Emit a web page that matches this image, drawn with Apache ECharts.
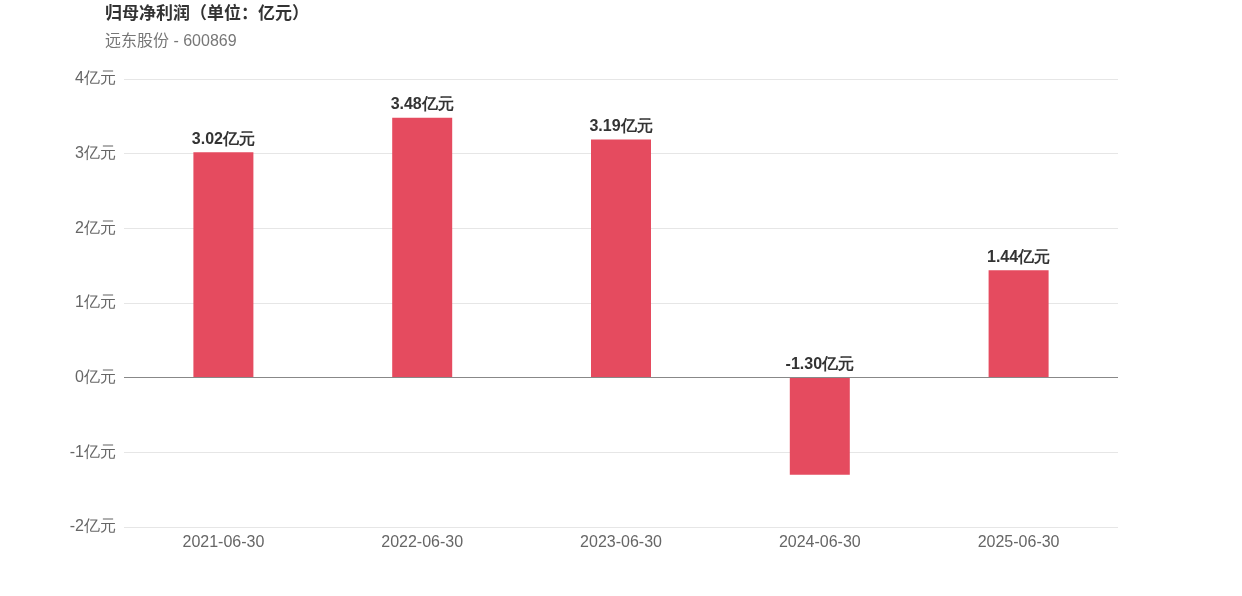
<!DOCTYPE html>
<html><head><meta charset="utf-8">
<script src="https://cdn.jsdelivr.net/npm/echarts@6/dist/echarts.min.js"></script>
<style>html,body{margin:0;padding:0;background:#fff}#c{width:1242px;height:596px}</style>
</head><body><div id="c"></div>
<script>
const categories = ['2021-06-30','2022-06-30','2023-06-30','2024-06-30','2025-06-30'];
const values = [3.02, 3.48, 3.19, -1.30, 1.44];
const titleText = '归母净利润（单位：亿元）';
const subtitleText = '远东股份 - 600869';

const chart = echarts.init(document.getElementById('c'));
chart.setOption({
  animation: false,
  title: {
    text: titleText, subtext: subtitleText, left: 100, top: 1, itemGap: 11,
    textStyle: {fontSize: 17, fontWeight: 'bold', color: '#333', fontFamily: 'Liberation Sans, Noto Sans CJK SC'},
    subtextStyle: {fontSize: 16, color: '#777', fontFamily: 'Liberation Sans, Noto Sans CJK SC'}
  },
  grid: {left: 124, right: 124, top: 79, bottom: 69},
  xAxis: {
    type: 'category', data: categories,
    axisLine: {show: false}, axisTick: {show: false},
    axisLabel: {color: '#666', fontSize: 16, margin: 8, fontFamily: 'Liberation Sans'}
  },
  yAxis: {
    type: 'value', min: -2, max: 4, interval: 1,
    axisLabel: {color: '#666', fontSize: 16, margin: 8, formatter: v => v + '亿元', fontFamily: 'Liberation Sans'},
    splitLine: {lineStyle: {color: '#e6e6e6'}},
    axisLine: {show: false}, axisTick: {show: false}
  },
  series: [{
    type: 'bar', data: values, barWidth: 60,
    itemStyle: {color: '#E54B5F'},
    label: {show: true, position: 'top', distance: 5, color: '#333', fontSize: 16, fontWeight: 'bold',
      fontFamily: 'Liberation Sans', formatter: p => p.value.toFixed(2) + '亿元'},
    markLine: {silent: true, symbol: 'none', label: {show: false},
      lineStyle: {color: '#888', type: 'solid', width: 1}, data: [{yAxis: 0}]}
  }]
});
</script></body></html>
